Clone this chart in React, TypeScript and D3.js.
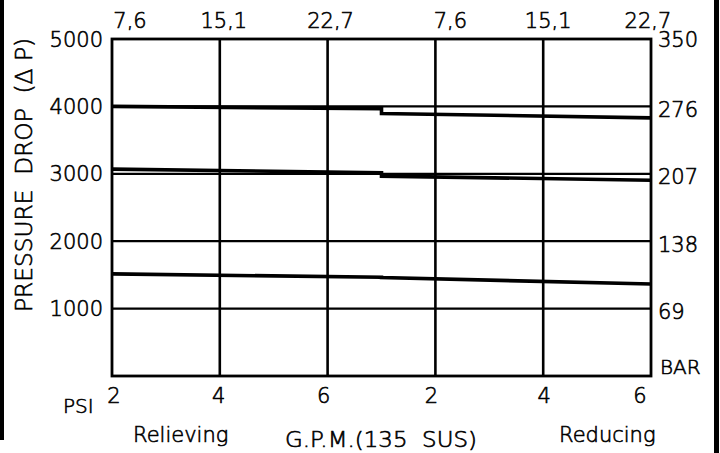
import React from 'react';
import * as d3 from 'd3';

// combined x axis: Relieving GPM 2..6 on the left, Reducing GPM 2..6 on the right (offset 6)
const gpmTicks = [2, 4, 6, 8, 10, 12];
const gpmLabels = ['2', '4', '6', '2', '4', '6'];
const lpmLabels = ['7,6', '15,1', '22,7', '7,6', '15,1', '22,7'];
const psiTicks = [1000, 2000, 3000, 4000, 5000];
const psiLabels = ['1000', '2000', '3000', '4000', '5000'];
const barLabels = ['69', '138', '207', '276', '350'];
const reducingOffset = 6;

// relieving curves: GPM 2 -> 7, reducing curves: GPM 1 -> 6
const relievingHigh = [{ gpm: 2, psi: 4000 }, { gpm: 7, psi: 3965 }];
const reducingHigh = [{ gpm: 1, psi: 3895 }, { gpm: 6, psi: 3830 }];
const relievingMid = [{ gpm: 2, psi: 3070 }, { gpm: 7, psi: 3015 }];
const reducingMid = [{ gpm: 1, psi: 2965 }, { gpm: 6, psi: 2905 }];
const relievingLow = [{ gpm: 2, psi: 1515 }, { gpm: 7, psi: 1465 }];
const reducingLow = [{ gpm: 1, psi: 1460 }, { gpm: 6, psi: 1365 }];

type Pt = { gpm: number; psi: number };

const W = 720;
const H = 453;
const font = '"DejaVu Sans", sans-serif';

export default function App() {
  const x = d3.scaleLinear().domain([2, 12]).range([112, 651]);
  const y = d3.scaleLinear().domain([0, 5000]).range([376, 39]);

  const line = d3.line<{ x: number; psi: number }>()
    .x(d => x(d.x))
    .y(d => y(d.psi));

  // join relieving part and reducing part into one stepped curve
  const joined = (a: Pt[], b: Pt[]) => [
    ...a.map(d => ({ x: d.gpm, psi: d.psi })),
    ...b.map(d => ({ x: d.gpm + reducingOffset, psi: d.psi })),
  ];

  const curves = [
    joined(relievingHigh, reducingHigh),
    joined(relievingMid, reducingMid),
    joined(relievingLow, reducingLow),
  ];

  const topNudge = [18, 4, 3, 15, 5, -3];
  const bottomNudge = [2, -1, -4, -4, 1, -11];

  const textStyle = { fontFamily: font, fontWeight: 200 as const };

  return (
    <div style={{ position: 'absolute', left: 0, top: 0, background: '#fff' }}>
      <svg width={W} height={H} style={{ display: 'block' }}>
        <rect width={W} height={H} fill="#fff" />
        {/* page edges */}
        <rect x={0} y={0} width={4} height={440} fill="#000" />
        <rect x={714} y={0} width={5} height={H} fill="#000" />

        {/* horizontal grid */}
        {psiTicks.slice(0, -1).map(v => (
          <line key={'h' + v} x1={x(2)} x2={x(12)} y1={y(v)} y2={y(v)} stroke="#000" strokeWidth={2.2} />
        ))}
        {/* vertical grid */}
        {gpmTicks.slice(1, -1).map(v => (
          <line key={'v' + v} x1={x(v)} x2={x(v)} y1={y(0)} y2={y(5000)} stroke="#000" strokeWidth={2.6} />
        ))}
        {/* frame */}
        <rect x={x(2)} y={y(5000)} width={x(12) - x(2)} height={y(0) - y(5000)}
          fill="none" stroke="#000" strokeWidth={2.8} />

        {/* curves */}
        {curves.map((s, i) => (
          <path key={'c' + i} d={line(s) || ''} fill="none" stroke="#000" strokeWidth={3.6} strokeLinejoin="miter" />
        ))}

        <g style={textStyle} fill="#000" stroke="#000" strokeWidth={0.6}>
          {/* top l/min labels */}
          {gpmTicks.map((v, i) => (
            <text key={'t' + i} x={x(v) + topNudge[i]} y={28} textAnchor="middle" fontSize={21}>{lpmLabels[i]}</text>
          ))}
          {/* bottom GPM labels */}
          {gpmTicks.map((v, i) => (
            <text key={'b' + i} x={x(v) + bottomNudge[i]} y={403} textAnchor="middle" fontSize={21}>{gpmLabels[i]}</text>
          ))}
          {/* left PSI labels */}
          {psiTicks.map((v, i) => (
            <text key={'l' + i} x={x(2) - 9} y={y(v) + 7.5} textAnchor="end" fontSize={21}>{psiLabels[i]}</text>
          ))}
          {/* right BAR labels */}
          {psiTicks.map((v, i) => (
            <text key={'r' + i} x={x(12) + 7} y={y(v) + (i === 4 ? 7.5 : 10.5)} textAnchor="start" fontSize={21}>{barLabels[i]}</text>
          ))}
          <text x={x(12) + 9} y={y(0) - 2} fontSize={20}>BAR</text>
          <text x={63} y={413} fontSize={20}>PSI</text>

          {/* y title */}
          <text transform="translate(32,175) rotate(-90)" textAnchor="middle" fontSize={23}
            textLength={274} lengthAdjust="spacingAndGlyphs" style={{ whiteSpace: 'pre' }}>
            {'PRESSURE  DROP  (\u0394 P)'}
          </text>

          {/* bottom captions */}
          <text x={133} y={442} fontSize={21}>Relieving</text>
          <text x={285} y={447} fontSize={21} textLength={192} lengthAdjust="spacingAndGlyphs"
            style={{ whiteSpace: 'pre' }}>{'G.P.M.(135  SUS)'}</text>
          <text x={559} y={442} fontSize={21}>Reducing</text>
        </g>
      </svg>
    </div>
  );
}
